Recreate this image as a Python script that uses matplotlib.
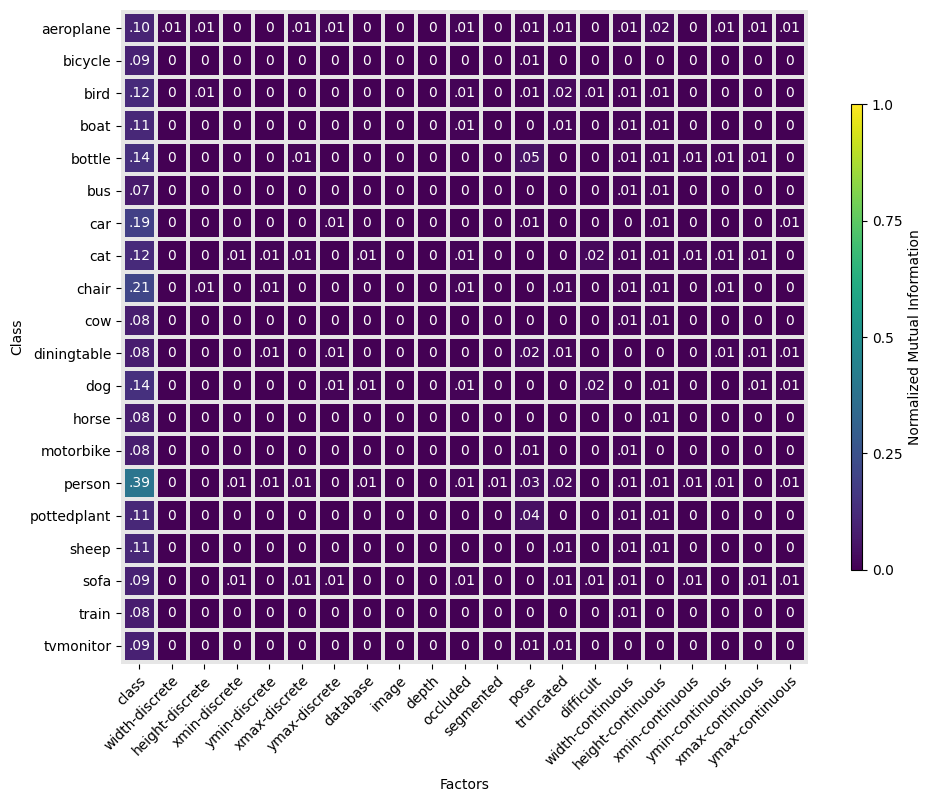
import matplotlib
matplotlib.use('Agg')
import matplotlib.pyplot as plt
import numpy as np

'''
- normalized mutual information between class and factors (heatmap)
- annotate every cell, strip the leading zero
'''

classes = ['aeroplane', 'bicycle', 'bird', 'boat', 'bottle', 'bus', 'car', 'cat', 'chair', 'cow',
           'diningtable', 'dog', 'horse', 'motorbike', 'person', 'pottedplant', 'sheep', 'sofa',
           'train', 'tvmonitor']
factors = ['class', 'width-discrete', 'height-discrete', 'xmin-discrete', 'ymin-discrete',
           'xmax-discrete', 'ymax-discrete', 'database', 'image', 'depth', 'occluded',
           'segmented', 'pose', 'truncated', 'difficult', 'width-continuous',
           'height-continuous', 'xmin-continuous', 'ymin-continuous', 'xmax-continuous',
           'ymax-continuous']

aeroplane   = [.10, .01, .01, 0, 0, .01, .01, 0, 0, 0, .01, 0, .01, .01, 0, .01, .02, 0, .01, .01, .01]
bicycle     = [.09, 0, 0, 0, 0, 0, 0, 0, 0, 0, 0, 0, .01, 0, 0, 0, 0, 0, 0, 0, 0]
bird        = [.12, 0, .01, 0, 0, 0, 0, 0, 0, 0, .01, 0, .01, .02, .01, .01, .01, 0, 0, 0, 0]
boat        = [.11, 0, 0, 0, 0, 0, 0, 0, 0, 0, .01, 0, 0, .01, 0, .01, .01, 0, 0, 0, 0]
bottle      = [.14, 0, 0, 0, 0, .01, 0, 0, 0, 0, 0, 0, .05, 0, 0, .01, .01, .01, .01, .01, 0]
bus         = [.07, 0, 0, 0, 0, 0, 0, 0, 0, 0, 0, 0, 0, 0, 0, .01, .01, 0, 0, 0, 0]
car         = [.19, 0, 0, 0, 0, 0, .01, 0, 0, 0, 0, 0, .01, 0, 0, 0, .01, 0, 0, 0, .01]
cat         = [.12, 0, 0, .01, .01, .01, 0, .01, 0, 0, .01, 0, 0, 0, .02, .01, .01, .01, .01, .01, 0]
chair       = [.21, 0, .01, 0, .01, 0, 0, 0, 0, 0, .01, 0, 0, .01, 0, .01, .01, 0, .01, 0, 0]
cow         = [.08, 0, 0, 0, 0, 0, 0, 0, 0, 0, 0, 0, 0, 0, 0, .01, .01, 0, 0, 0, 0]
diningtable = [.08, 0, 0, 0, .01, 0, .01, 0, 0, 0, 0, 0, .02, .01, 0, 0, 0, 0, .01, .01, .01]
dog         = [.14, 0, 0, 0, 0, 0, .01, .01, 0, 0, .01, 0, 0, 0, .02, 0, .01, 0, 0, .01, .01]
horse       = [.08, 0, 0, 0, 0, 0, 0, 0, 0, 0, 0, 0, 0, 0, 0, 0, .01, 0, 0, 0, 0]
motorbike   = [.08, 0, 0, 0, 0, 0, 0, 0, 0, 0, 0, 0, .01, 0, 0, .01, 0, 0, 0, 0, 0]
person      = [.39, 0, 0, .01, .01, .01, 0, .01, 0, 0, .01, .01, .03, .02, 0, .01, .01, .01, .01, 0, .01]
pottedplant = [.11, 0, 0, 0, 0, 0, 0, 0, 0, 0, 0, 0, .04, 0, 0, .01, .01, 0, 0, 0, 0]
sheep       = [.11, 0, 0, 0, 0, 0, 0, 0, 0, 0, 0, 0, 0, .01, 0, .01, .01, 0, 0, 0, 0]
sofa        = [.09, 0, 0, .01, 0, .01, .01, 0, 0, 0, .01, 0, 0, .01, .01, .01, 0, .01, 0, .01, .01]
train       = [.08, 0, 0, 0, 0, 0, 0, 0, 0, 0, 0, 0, 0, 0, 0, .01, 0, 0, 0, 0, 0]
tvmonitor   = [.09, 0, 0, 0, 0, 0, 0, 0, 0, 0, 0, 0, .01, .01, 0, 0, 0, 0, 0, 0, 0]

nmi = np.array([aeroplane, bicycle, bird, boat, bottle, bus, car, cat, chair, cow,
                diningtable, dog, horse, motorbike, person, pottedplant, sheep, sofa,
                train, tvmonitor])

def fmt(v):
    if round(v, 2) == 0:
        return '0'
    return ('%.2f' % v).lstrip('0')

grey = '#e6e6e6'

fig = plt.figure(figsize=(9.44, 8.02), dpi=100)
ax = fig.add_axes([0.1282, 0.1721, 0.7278, 0.8155])
cax = fig.add_axes([0.9015, 0.2893, 0.01165, 0.581])

ax.set_facecolor(grey)
mesh = ax.pcolormesh(nmi, cmap='viridis', vmin=0, vmax=1, edgecolors=grey, linewidth=2.8)
ax.set_xlim(-0.06, len(factors) + 0.06)
ax.set_ylim(len(classes) + 0.06, -0.06)
for s in ax.spines.values():
    s.set_visible(False)

for i in range(nmi.shape[0]):
    for j in range(nmi.shape[1]):
        ax.text(j + 0.5, i + 0.5, fmt(nmi[i, j]), ha='center', va='center',
                color='white', fontsize=10)

ax.set_xticks(np.arange(len(factors)) + 0.5)
ax.set_xticklabels(factors, rotation=45, ha='right', rotation_mode='anchor')
ax.set_yticks(np.arange(len(classes)) + 0.5)
ax.set_yticklabels(classes)
ax.set_xlabel('Factors')
ax.set_ylabel('Class')

cbar = fig.colorbar(mesh, cax=cax)
cbar.set_ticks([0, 0.25, 0.5, 0.75, 1.0])
cbar.set_ticklabels(['0.0', '0.25', '0.5', '0.75', '1.0'])
cbar.set_label('Normalized Mutual Information')
cbar.outline.set_linewidth(0.8)

plt.savefig('out.png', dpi=100)
